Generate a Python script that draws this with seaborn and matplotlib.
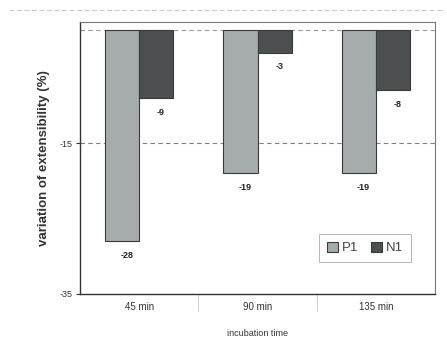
import pandas as pd
import matplotlib
matplotlib.use("Agg")
import matplotlib.pyplot as plt
import seaborn as sns

# data
times = ["45 min", "90 min", "135 min"]
p1 = [-28, -19, -19]
n1 = [-9, -3, -8]

df = pd.DataFrame({
    "time": times * 2,
    "value": p1 + n1,
    "sample": ["P1"] * 3 + ["N1"] * 3,
})

sns.set_style("white")
plt.rcParams["font.family"] = ["Liberation Sans", "DejaVu Sans"]

fig = plt.figure(figsize=(4.47, 3.42), dpi=100)
ax = fig.add_axes([80 / 447, 48 / 342, 355 / 447, 272 / 342])

palette = {"P1": "#a6acab", "N1": "#4b4f4f"}
sns.barplot(data=df, x="time", y="value", hue="sample", palette=palette,
            width=0.58, edgecolor="#3a3a3a", linewidth=0.8, saturation=1, ax=ax)

ax.set_ylim(-35, 1.06)
ax.set_yticks([-35, -15])
ax.set_yticklabels(["-35", "-15"], fontsize=6.5, color="#333333")
ax.axhline(0, color="#9a9a9a", lw=0.8, ls=(0, (4, 3)), zorder=0)
ax.axhline(-15, color="#808080", lw=0.8, ls=(0, (4, 3)), zorder=0)
ax.tick_params(axis="y", length=3, width=0.8, color="#333333", pad=2, left=True)
ax.tick_params(axis="x", length=0, pad=6, labelsize=7, labelcolor="#333333")

# category separators below the axis
ax.set_xticks([0.5, 1.5], minor=True)
ax.tick_params(axis="x", which="minor", length=12, width=0.5, color="#bbbbbb", bottom=True)

for s in ["top", "right"]:
    ax.spines[s].set_color("#777777")
    ax.spines[s].set_linewidth(0.8)
for s in ["left", "bottom"]:
    ax.spines[s].set_color("#333333")
    ax.spines[s].set_linewidth(1.0)

# value labels under each bar
for cont in ax.containers:
    for bar in cont:
        h = bar.get_height()
        ax.annotate(f"{h:.0f}", (bar.get_x() + bar.get_width() / 2 + 0.04, h),
                    xytext=(0, -7), textcoords="offset points",
                    ha="center", va="top", fontsize=6.5, fontweight="bold",
                    color="#222222")

ax.set_ylabel("variation of extensibility (%)", fontsize=9.5, fontweight="bold",
              color="#333333", labelpad=7)
ax.set_xlabel("incubation time", fontsize=6.5, color="#333333", labelpad=10)

leg = ax.legend(loc="lower right", bbox_to_anchor=(0.95, 0.092), ncol=2,
                fontsize=9.5, frameon=True, fancybox=False, handlelength=0.8,
                handleheight=0.8, handletextpad=0.3, columnspacing=1.0,
                borderpad=0.6)
leg.get_frame().set_edgecolor("#999999")
leg.get_frame().set_linewidth(0.6)
for t in leg.get_texts():
    t.set_color("#444444")

# faint frame line at the top of the scan
fig.add_artist(plt.Line2D([0.02, 0.99], [0.97, 0.97], color="#bbbbbb",
                          lw=0.6, ls=(0, (6, 3)), transform=fig.transFigure))

fig.savefig("out.png", dpi=100)
